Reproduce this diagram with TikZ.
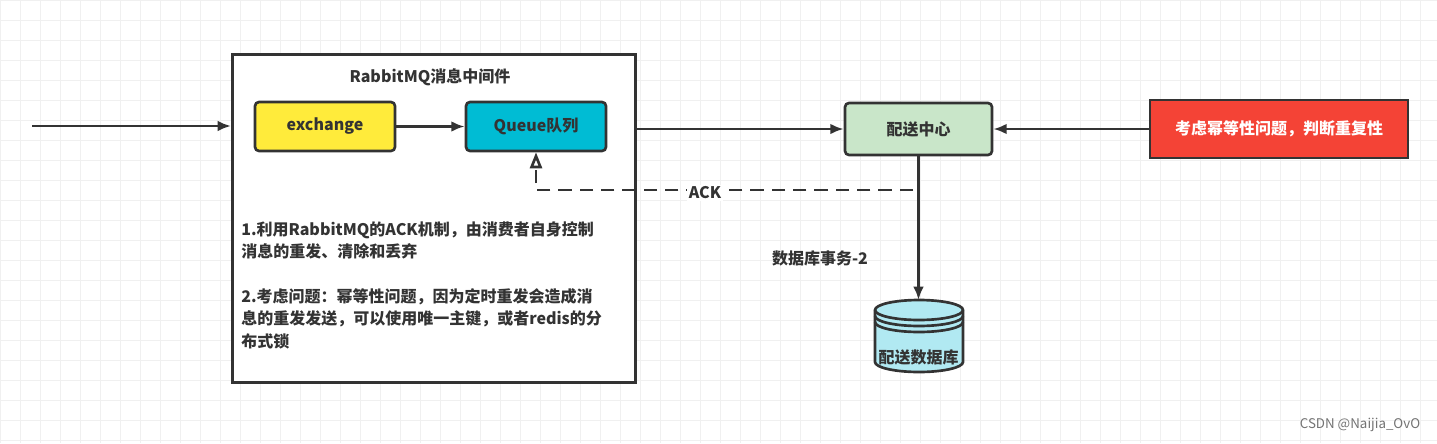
\documentclass[tikz,border=0pt]{standalone}
\usepackage{fontspec}
\setmainfont{Noto Sans CJK SC}
\usetikzlibrary{arrows.meta}
\definecolor{ln}{HTML}{333333}
\definecolor{yel}{HTML}{FFEB3B}
\definecolor{cyn}{RGB}{0,188,212}
\definecolor{grn}{RGB}{201,230,201}
\definecolor{rd}{RGB}{244,67,54}
\definecolor{dbc}{RGB}{177,233,242}
\tikzset{
 box/.style={draw=ln,line width=2pt,rounded corners=3pt,font=\bfseries\fontsize{12}{14}\selectfont,text=ln,inner sep=0pt},
 arr/.style={draw=ln,line width=2.2pt,-{Latex[length=10pt,width=8pt]}},
 txt/.style={font=\bfseries\fontsize{12}{17}\selectfont,text=ln,align=left,anchor=north west,inner sep=0pt},
 lbl/.style={font=\bfseries\fontsize{12}{14}\selectfont,text=ln}
}
\begin{document}
\begin{tikzpicture}[x=0.75pt,y=-0.75pt]
\useasboundingbox (0,0) rectangle (1437,443);
\fill[white] (0,0) rectangle (1437,443);
\foreach \i in {0,20,...,1437} \draw[black!6,line width=0.4pt] (\i,0)--(\i,443);
\foreach \j in {0,20,...,443} \draw[black!6,line width=0.4pt] (0,\j)--(1437,\j);
\node[draw=ln,line width=2pt,minimum width=403*0.75pt,minimum height=328*0.75pt,anchor=north west,inner sep=0pt,fill=white] (mq) at (231,53) {};
\node[lbl] (title) at (430,77) {RabbitMQ消息中间件};
\node[box,fill=yel,minimum width=140*0.75pt,minimum height=49*0.75pt] (ex) at (325,126.5) {exchange};
\node[box,fill=cyn,minimum width=140*0.75pt,minimum height=49*0.75pt] (q) at (536,126.5) {Queue队列};
\node[box,fill=grn,minimum width=147*0.75pt,minimum height=52*0.75pt] (ps) at (918.5,129) {配送中心};
\node[box,rounded corners=0pt,fill=rd,text=white,minimum width=258*0.75pt,minimum height=58*0.75pt] (red) at (1279,129) {考虑幂等性问题，判断重复性};
\coordinate (in) at (32,126);
\draw[arr] (in) -- (mq.west|-in);
\draw[arr] (ex) -- (q);
\draw[arr] (mq.east|-ps) -- (ps);
\draw[arr] (red) -- (ps);
\coordinate (a1) at (913,190);
\coordinate (a2) at (536,190);
\draw[ln,line width=2.2pt,dash pattern=on 10pt off 6pt,-{Triangle[open,length=12pt,width=9pt,line width=2pt]}] (a1) -- (a2) -- (q.south);
\node[lbl,fill=white,inner sep=1pt] (ack) at (705,193) {ACK};
\coordinate (db) at (918.5,300);
\draw[ln,line width=2pt,fill=dbc] (875,310) -- (875,362) arc[start angle=180,end angle=360,x radius=33pt,y radius=7.5pt] -- (963,310) arc[start angle=0,end angle=180,x radius=33pt,y radius=7.5pt] -- cycle;
\foreach \yy in {310,316,322}
  \draw[ln,line width=2pt] (875,\yy) arc[start angle=180,end angle=360,x radius=33pt,y radius=7.5pt];
\node[lbl] (dbt) at (918.5,357) {配送数据库};
\draw[arr] (ps.south-|db) -- (db);
\node[lbl] (tx) at (820,258) {数据库事务-2};
\node[txt] (t1) at (241,221) {1.利用RabbitMQ的ACK机制，由消费者自身控制\\消息的重发、清除和丢弃};
\node[txt] (t2) at (241,288) {2.考虑问题：幂等性问题，因为定时重发会造成消\\息的重发发送，可以使用唯一主键，或者redis的分\\布式锁};
\node[font=\fontsize{10}{12}\selectfont,text=black!55] (wm) at (1360,425) {CSDN @Naijia\_OvO};
\end{tikzpicture}
\end{document}
